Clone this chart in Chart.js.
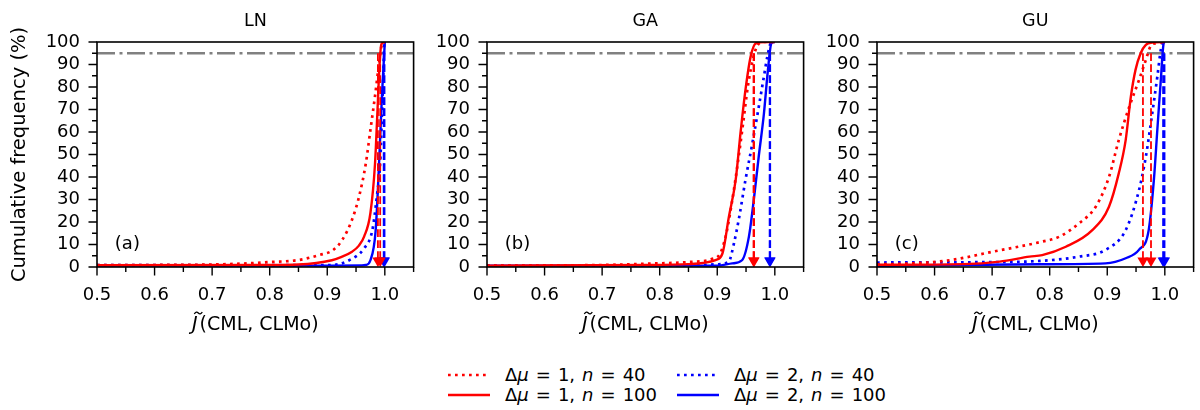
<!DOCTYPE html>
<html lang="en">
<head>
<meta charset="UTF-8" />
<title>Cumulative frequency of J(CML, CLMo)</title>
<script src="https://cdn.jsdelivr.net/npm/chart.js@4.4.1/dist/chart.umd.min.js"></script>
<style>
  * { margin: 0; padding: 0; box-sizing: border-box; }
  body {
    width: 1200px;
    height: 410px;
    background: #ffffff;
    position: relative;
    overflow: hidden;
    font-family: "DejaVu Sans", sans-serif;
  }
  .panel { position: absolute; top: 0; width: 420px; height: 345px; }
  .key { position: absolute; height: 20px; white-space: nowrap; }
  .key svg { position: absolute; left: 0; top: 7px; }
  .key span {
    position: absolute;
    left: 57px;
    top: 0;
    font-size: 18px;
    line-height: 20px;
    word-spacing: 1.3px;
    color: #000;
  }
</style>
</head>
<body>

<canvas id="ln" class="panel" style="left:0px"></canvas>
<canvas id="ga" class="panel" style="left:390px"></canvas>
<canvas id="gu" class="panel" style="left:780px"></canvas>

<div class="key" style="left:448px; top:365px">
  <svg width="44" height="6"><line x1="0" y1="3" x2="42" y2="3" stroke="#ff0000" stroke-width="2.7" stroke-dasharray="2.7 4.3"/></svg>
  <span>Δ<i>μ</i> = 1, <i>n</i> = 40</span>
</div>
<div class="key" style="left:448px; top:385px">
  <svg width="44" height="6"><line x1="0" y1="3" x2="42" y2="3" stroke="#ff0000" stroke-width="2.4"/></svg>
  <span>Δ<i>μ</i> = 1, <i>n</i> = 100</span>
</div>
<div class="key" style="left:677px; top:365px">
  <svg width="44" height="6"><line x1="0" y1="3" x2="42" y2="3" stroke="#0000ff" stroke-width="2.7" stroke-dasharray="2.7 4.3"/></svg>
  <span>Δ<i>μ</i> = 2, <i>n</i> = 40</span>
</div>
<div class="key" style="left:677px; top:385px">
  <svg width="44" height="6"><line x1="0" y1="3" x2="42" y2="3" stroke="#0000ff" stroke-width="2.4"/></svg>
  <span>Δ<i>μ</i> = 2, <i>n</i> = 100</span>
</div>

<script>
// ---- data: cumulative frequency (%) against J~(CML, CLMo) ----

const panelTitles = ["LN", "GA", "GU"];
const panelTags = ["(a)", "(b)", "(c)"];
const xTickLabels = ["0.5", "0.6", "0.7", "0.8", "0.9", "1.0"];
const yTickLabels = ["0", "10", "20", "30", "40", "50", "60", "70", "80", "90", "100"];
const seriesNames = ["Δμ = 1, n = 40", "Δμ = 1, n = 100", "Δμ = 2, n = 40", "Δμ = 2, n = 100"];
const refLevel = 95;

// LN
const lnX_m1n40 = [0.5, 0.6, 0.7, 0.76, 0.8, 0.85, 0.886, 0.91, 0.926, 0.943, 0.955, 0.967, 0.975, 0.983, 0.990, 0.995, 1.0];
const lnY_m1n40 = [0.8, 0.9, 1.1, 1.6, 2.2, 3.1, 5.3, 7.5, 12, 21, 31, 46, 61, 76, 90.5, 99, 100];
const lnX_m1n100 = [0.5, 0.8, 0.85, 0.908, 0.925, 0.943, 0.955, 0.964, 0.975, 0.983, 0.987, 0.991, 0.994, 1.0];
const lnY_m1n100 = [0.8, 0.9, 1.1, 3.0, 4.5, 6.8, 9.5, 13.5, 24, 46, 68, 90.5, 99, 100];
const lnX_m2n40 = [0.5, 0.85, 0.908, 0.938, 0.964, 0.978, 0.986, 0.9925, 0.995, 0.998, 0.999, 1.0];
const lnY_m2n40 = [0.8, 0.8, 0.9, 3, 8.3, 16, 31, 49, 68, 90, 99, 100];
const lnX_m2n100 = [0.5, 0.9, 0.96, 0.967, 0.975, 0.984, 0.990, 0.995, 0.9998, 1.0];
const lnY_m2n100 = [0.6, 0.6, 0.7, 0.9, 3, 16, 46, 76, 99, 100];
const lnP95 = [0.988, 0.992, 0.998, 0.9995];

// GA
const gaX_m1n40 = [0.5, 0.7, 0.78, 0.85, 0.89, 0.905, 0.915, 0.925, 0.935, 0.945, 0.953, 0.963, 0.97, 0.98, 1.0];
const gaY_m1n40 = [0.6, 0.9, 1.5, 2.2, 3.5, 6, 14, 28, 45, 64, 80, 93.5, 98.5, 100, 100];
const gaX_m1n100 = [0.5, 0.78, 0.85, 0.897, 0.909, 0.920, 0.932, 0.941, 0.949, 0.958, 0.967, 0.984, 1.0];
const gaY_m1n100 = [0.6, 0.9, 1.3, 3.1, 6, 22, 38.7, 61, 78.7, 93.5, 99.4, 100, 100];
const gaX_m2n40 = [0.5, 0.85, 0.9, 0.92, 0.929, 0.938, 0.949, 0.961, 0.972, 0.981, 0.987, 0.993, 1.0];
const gaY_m2n40 = [0.6, 0.7, 1.2, 2.4, 10.5, 22, 38.7, 55, 71, 84.6, 93.5, 99.4, 100];
const gaX_m2n100 = [0.5, 0.9, 0.926, 0.943, 0.955, 0.964, 0.972, 0.981, 0.988, 0.994, 0.999, 1.0];
const gaY_m2n100 = [0.6, 0.6, 1.6, 3, 13.5, 31, 49, 68, 87.5, 99.4, 100, 100];
const gaP95 = [0.964, 0.963, 0.991, 0.992];

// GU
const guX_m1n40 = [0.5, 0.55, 0.626, 0.701, 0.782, 0.817, 0.851, 0.880, 0.903, 0.920, 0.938, 0.955, 0.967, 0.975, 0.984, 1.0];
const guY_m1n40 = [1.2, 1.5, 3, 6.8, 11, 13.5, 19.4, 26.8, 40, 56.4, 71, 83, 92, 98, 99.5, 100];
const guX_m1n100 = [0.5, 0.65, 0.713, 0.765, 0.787, 0.828, 0.874, 0.903, 0.920, 0.932, 0.941, 0.949, 0.958, 0.967, 0.978, 1.0];
const guY_m1n100 = [1.0, 1.3, 2.4, 4.6, 5.3, 9, 16.4, 26.8, 41.6, 56.4, 75.7, 87.5, 95, 98.7, 99.7, 100];
const guX_m2n40 = [0.5, 0.7, 0.782, 0.851, 0.897, 0.932, 0.955, 0.967, 0.978, 0.987, 0.993, 0.996, 1.0];
const guY_m2n40 = [2.0, 2.2, 2.7, 4.6, 7.6, 16.4, 34, 49, 68, 84.6, 96.5, 99.5, 100];
const guX_m2n100 = [0.5, 0.782, 0.897, 0.932, 0.955, 0.972, 0.981, 0.987, 0.993, 0.998, 1.0];
const guY_m2n100 = [0.5, 1.2, 1.6, 3.9, 7.6, 16.4, 38.7, 61, 83, 99.4, 100];
const guP95 = [0.962, 0.976, 0.997, 0.9995];

const seriesColors = ["#ff0000", "#ff0000", "#0000ff", "#0000ff"];
const seriesDotted = [true, false, true, false];
const markerY = 2.8;

const FONT = '"DejaVu Sans", sans-serif';

function pts(xs, ys) {
    return xs.map((x, i) => ({ x: x, y: ys[i] }));
}

// frame, outward major/minor ticks, panel tag and axis labels
const axesDecor = {
    id: "axesDecor",
    afterDraw(chart, args, opts) {
        const { ctx, chartArea: a, scales } = chart;
        ctx.save();
        ctx.strokeStyle = "#000";
        ctx.lineWidth = 1.6;
        ctx.strokeRect(a.left, a.top, a.right - a.left, a.bottom - a.top);

        ctx.lineWidth = 1.4;
        ctx.beginPath();
        scales.x.ticks.forEach((t) => {
            const px = scales.x.getPixelForValue(t.value);
            const len = t.label ? 8.5 : 5;
            ctx.moveTo(px, a.bottom);
            ctx.lineTo(px, a.bottom + len);
        });
        scales.y.ticks.forEach((t) => {
            const py = scales.y.getPixelForValue(t.value);
            const len = t.label ? 8.5 : 5;
            ctx.moveTo(a.left, py);
            ctx.lineTo(a.left - len, py);
        });
        ctx.stroke();

        ctx.fillStyle = "#000";
        ctx.font = "18px " + FONT;
        ctx.textBaseline = "middle";
        ctx.textAlign = "left";
        ctx.fillText(opts.tag, scales.x.getPixelForValue(0.531), scales.y.getPixelForValue(10));

        // y label, only on the first panel
        if (opts.yTitle) {
            ctx.save();
            ctx.font = "19.5px " + FONT;
            ctx.textAlign = "center";
            ctx.translate(20, (a.top + a.bottom) / 2);
            ctx.rotate(-Math.PI / 2);
            ctx.fillText(opts.yTitle, 0, 0);
            ctx.restore();
        }

        // x label: italic J under a tilde, then the upright argument list
        const rest = "(CML, CLMo)";
        ctx.textBaseline = "alphabetic";
        ctx.font = "italic 19px " + FONT;
        const wJ = ctx.measureText("J").width;
        ctx.font = "19px " + FONT;
        const wRest = ctx.measureText(rest).width;
        const x0 = (a.left + a.right) / 2 - (wJ + wRest + 2) / 2;
        const base = a.bottom + 63;
        ctx.font = "italic 19px " + FONT;
        ctx.fillText("J", x0, base);
        const cx = x0 + wJ / 2 + 3.5;
        const cy = base - 17;
        ctx.lineWidth = 1.3;
        ctx.beginPath();
        ctx.moveTo(cx - 4, cy + 1);
        ctx.quadraticCurveTo(cx - 2, cy - 2.2, cx, cy);
        ctx.quadraticCurveTo(cx + 2, cy + 2.2, cx + 4, cy - 1);
        ctx.stroke();
        ctx.font = "19px " + FONT;
        ctx.fillText(rest, x0 + wJ + 2, base);
        ctx.restore();
    },
};

function makePanel(id, k, xs, ys, p95) {
    const datasets = [];
    // dashed drops from the 95 % level, with a marker at the foot
    p95.forEach((p, i) => {
        datasets.push({
            label: seriesNames[i] + " (95%)",
            data: [{ x: p, y: refLevel }, { x: p, y: markerY }],
            borderColor: seriesColors[i],
            backgroundColor: seriesColors[i],
            borderWidth: 1.8,
            borderDash: [7.7, 3.3],
            pointRadius: [0, 6.4],
            pointStyle: "triangle",
            rotation: 180,
            pointBorderWidth: 0,
            tension: 0,
            order: 0,
        });
    });
    xs.forEach((x, i) => {
        datasets.push({
            label: seriesNames[i],
            data: pts(x, ys[i]),
            borderColor: seriesColors[i],
            borderWidth: seriesDotted[i] ? 2.7 : 2.4,
            borderDash: seriesDotted[i] ? [2.7, 4.3] : [],
            pointRadius: 0,
            cubicInterpolationMode: "monotone",
            order: 1,
        });
    });
    datasets.push({
        label: "95%",
        data: [{ x: 0.5, y: refLevel }, { x: 1.05, y: refLevel }],
        borderColor: "#808080",
        borderWidth: 2.5,
        borderDash: [18, 4.5, 3, 4.5],
        pointRadius: 0,
        tension: 0,
        order: 2,
    });

    const canvas = document.getElementById(id);
    canvas.width = 420;
    canvas.height = 345;

    return new Chart(canvas, {
        type: "line",
        data: { datasets: datasets },
        plugins: [axesDecor],
        options: {
            responsive: false,
            animation: false,
            layout: { padding: { left: 0, right: 5, top: 0, bottom: 0 } },
            plugins: {
                legend: { display: false },
                tooltip: { enabled: false },
                title: {
                    display: true,
                    text: panelTitles[k],
                    fullSize: false,
                    color: "#000",
                    font: { family: FONT, size: 17.5, weight: "normal" },
                    padding: { top: 11, bottom: 10 },
                },
                axesDecor: {
                    tag: panelTags[k],
                    yTitle: k === 0 ? "Cumulative frequency (%)" : "",
                },
            },
            scales: {
                x: {
                    type: "linear",
                    min: 0.5,
                    max: 1.05,
                    // fixed axis band; label padding must not eat into the plot width
                    afterFit: (s) => {
                        s.height = 78;
                        s.paddingLeft = 0;
                        s.paddingRight = 0;
                    },
                    grid: { display: false, drawTicks: false },
                    border: { display: false },
                    ticks: {
                        stepSize: 0.05,
                        autoSkip: false,
                        maxRotation: 0,
                        padding: 18,
                        color: "#000",
                        font: { family: FONT, size: 18 },
                        callback: (v) => {
                            const i = Math.round((v - 0.5) * 10);
                            return Math.abs(v - (0.5 + i / 10)) < 1e-6 ? (xTickLabels[i] || "") : "";
                        },
                    },
                },
                y: {
                    min: 0,
                    max: 100,
                    afterFit: (s) => { s.width = 97; },
                    grid: { display: false, drawTicks: false },
                    border: { display: false },
                    ticks: {
                        stepSize: 5,
                        autoSkip: false,
                        padding: 17,
                        color: "#000",
                        font: { family: FONT, size: 18 },
                        callback: (v) => (v % 10 === 0 ? yTickLabels[v / 10] : ""),
                    },
                },
            },
        },
    });
}

makePanel("ln", 0,
    [lnX_m1n40, lnX_m1n100, lnX_m2n40, lnX_m2n100],
    [lnY_m1n40, lnY_m1n100, lnY_m2n40, lnY_m2n100], lnP95);
makePanel("ga", 1,
    [gaX_m1n40, gaX_m1n100, gaX_m2n40, gaX_m2n100],
    [gaY_m1n40, gaY_m1n100, gaY_m2n40, gaY_m2n100], gaP95);
makePanel("gu", 2,
    [guX_m1n40, guX_m1n100, guX_m2n40, guX_m2n100],
    [guY_m1n40, guY_m1n100, guY_m2n40, guY_m2n100], guP95);
</script>
</body>
</html>
